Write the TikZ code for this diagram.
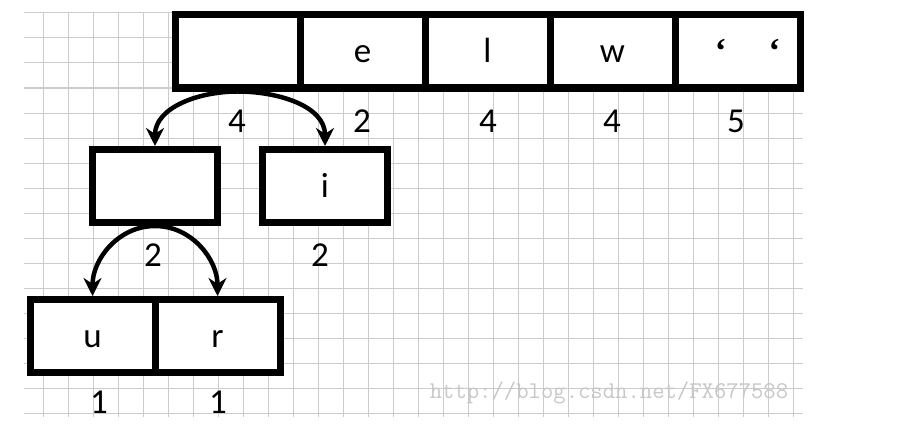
\documentclass[tikz,border=0pt]{standalone}
\usepackage{fontspec}
\setmainfont{Carlito}
\newfontfamily\quotefont{Liberation Serif}
\usetikzlibrary{arrows.meta}

\begin{document}
\begin{tikzpicture}
		[x=1pt,y=1pt,every node/.style={font=\fontsize{35}{40}\selectfont},
		cell/.style={draw,fill=white,line width=7pt,minimum width=125pt,minimum height=73pt,inner sep=0pt,text height=23pt,text depth=0pt},
		arr/.style={line width=4.5pt,-{Stealth[length=18pt,width=18pt]}}]
		\useasboundingbox (0,0) rectangle (904,424);
		%grid paper
		\foreach \x in {43,68,...,793}
		\draw[black!20,line width=1pt]  (\x,7) -- (\x,412);
		\foreach \y in {11,36,...,411}
		\draw[black!20,line width=1pt]  (24,\y) -- (803,\y);
		\node[cell] (n1) at (237.5,372.5) {};
		\node[cell] (n2) at (362.5,372.5) {e};
		\node[cell] (n3) at (487.5,372.5) {l};
		\node[cell] (n4) at (612.5,372.5) {w};
		\node[cell] (n5) at (737.5,372.5) {\quotefont\bfseries\hspace*{20pt}‘\hspace{42pt}‘};
		\node (l1) at (237,303) {4};
		\node (l2) at (362,303) {2};
		\node (l3) at (488,303) {4};
		\node (l4) at (612,303) {4};
		\node (l5) at (736,303) {5};
		
		\node[cell] (n6) at (155,238) {};
		\node[cell] (n7) at (325,238) {i};
		\node (l6) at (153,169) {2};
		\node (l7) at (320,169) {2};
		
		\node[cell] (n8) at (92.5,88) {u};
		\node[cell] (n9) at (217.5,88) {r};
		\node (l8) at (99,22) {1};
		\node (l9) at (218,22) {1};
		%\node (front) at (-2,0.5)   {$\Gamma_1$}
		\foreach \from/\to/\dir in {n1/n6/180,n1/n7/0,n6/n8/180,n6/n9/0}
		\draw[arr]  (\from.south) to[out=\dir,in=90] (\to.north);
		
		\node[text=black!22,font=\fontsize{24}{28}\ttfamily] (wm) at (609,31) {http://blog.csdn.net/FX677588};
	\end{tikzpicture}
\end{document}
